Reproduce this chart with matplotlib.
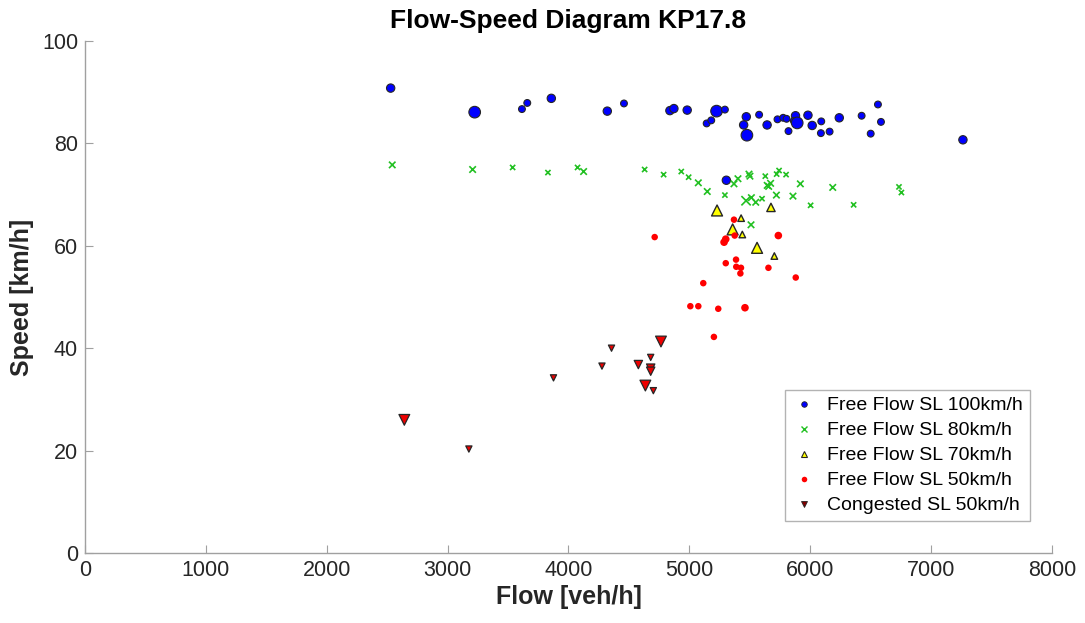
import matplotlib
matplotlib.use("Agg")
import matplotlib.pyplot as plt
from matplotlib.lines import Line2D

plt.rcParams['font.family'] = ['Liberation Sans', 'DejaVu Sans']

# ---- data ----
ff100_flow = [2529, 3224, 3615, 3659, 3858, 4321, 4459, 4839, 4872, 4982, 5143, 5181,
              5225, 5294, 5471, 5449, 5476, 5577, 5643, 5729, 5776, 5804, 5820, 5878,
              5864, 5892, 5981, 6016, 6091, 6088, 6160, 6240, 6425, 6560, 6585, 6500,
              7263, 5306]
ff100_speed = [90.8, 86.1, 86.7, 87.9, 88.8, 86.3, 87.8, 86.4, 86.8, 86.5, 83.9, 84.5,
               86.3, 86.6, 85.2, 83.6, 81.6, 85.6, 83.6, 84.7, 85.0, 84.8, 82.4, 85.4,
               84.4, 84.0, 85.5, 83.5, 84.3, 82.0, 82.3, 85.0, 85.4, 87.6, 84.2, 81.9,
               80.7, 72.8]
ff100_weight = [2, 3, 1, 1, 2, 2, 1, 2, 2, 2, 1, 1,
                3, 1, 2, 2, 3, 1, 2, 1, 1, 1, 1, 2,
                1, 3, 2, 2, 1, 1, 1, 2, 1, 1, 1, 1,
                2, 2]

ff80_flow = [2542, 3207, 3538, 3830, 4075, 4125, 4630, 4787, 4933, 4994, 5074, 5148,
             5294, 5369, 5402, 5493, 5501, 5628, 5644, 5672, 5656, 5722, 5742, 5800,
             5918, 6186, 6734, 6754, 5469, 5513, 5549, 5601, 5720, 5857, 6003, 6359,
             5510]
ff80_speed = [75.8, 74.9, 75.3, 74.3, 75.3, 74.5, 74.9, 73.9, 74.5, 73.4, 72.3, 70.6,
              69.9, 72.1, 73.1, 74.0, 73.6, 73.6, 71.8, 72.2, 71.6, 74.0, 74.7, 73.9,
              72.1, 71.4, 71.5, 70.4, 68.8, 69.4, 68.5, 69.2, 69.9, 69.7, 67.9, 68.0,
              64.1]
ff80_weight = [2, 2, 1, 1, 1, 2, 1, 1, 1, 1, 2, 2,
               1, 2, 2, 2, 2, 1, 2, 2, 2, 1, 1, 1,
               2, 2, 1, 1, 3, 2, 2, 1, 2, 2, 1, 1,
               2]

ff70_flow = [5229, 5675, 5428, 5358, 5438, 5560, 5703]
ff70_speed = [66.9, 67.5, 65.4, 63.2, 62.2, 59.6, 58.0]
ff70_weight = [3, 2, 1, 3, 1, 3, 1]

ff50_flow = [4713, 5369, 5301, 5287, 5375, 5736, 5301, 5386, 5388, 5427, 5422, 5654,
             5880, 5115, 5008, 5074, 5239, 5460, 5203]
ff50_speed = [61.7, 65.1, 61.3, 60.7, 62.0, 62.0, 56.6, 57.3, 55.9, 55.7, 54.6, 55.7,
              53.8, 52.7, 48.2, 48.2, 47.7, 47.9, 42.2]
ff50_weight = [1, 1, 2, 2, 1, 2, 1, 1, 1, 1, 1, 1,
               1, 1, 1, 1, 1, 2, 1]

cg50_flow = [4765, 4356, 4680, 4277, 4578, 4680, 4680, 3876, 4636, 4702, 2642, 3176]
cg50_speed = [41.3, 40.0, 38.2, 36.5, 36.8, 36.1, 35.5, 34.2, 32.7, 31.7, 26.0, 20.3]
cg50_weight = [3, 1, 1, 1, 2, 2, 2, 1, 3, 1, 3, 1]

labels = ["Free Flow SL 100km/h", "Free Flow SL 80km/h", "Free Flow SL 70km/h",
          "Free Flow SL 50km/h", "Congested SL 50km/h"]
xticks = [0, 1000, 2000, 3000, 4000, 5000, 6000, 7000, 8000]
yticks = [0, 20, 40, 60, 80, 100]

# ---- styling ----
def sizes(w, base):
    return [base[k] for k in w]

fig = plt.figure(figsize=(10.85, 6.23), dpi=100)
ax = fig.add_axes([0.0783, 0.1124, 0.8913, 0.8218])

ax.scatter(ff100_flow, ff100_speed, s=sizes(ff100_weight, {1: 24, 2: 36, 3: 70}),
           marker='o', facecolor='#0000ff', edgecolor='#262626', linewidth=0.8, zorder=3)
ax.scatter(ff80_flow, ff80_speed, s=sizes(ff80_weight, {1: 14, 2: 22, 3: 45}),
           marker='x', color='#22c022', linewidth=1.2, zorder=3)
ax.scatter(ff70_flow, ff70_speed, s=sizes(ff70_weight, {1: 22, 2: 36, 3: 62}),
           marker='^', facecolor='#ffff00', edgecolor='#262626', linewidth=1.0, zorder=3)
ax.scatter(ff50_flow, ff50_speed, s=sizes(ff50_weight, {1: 22, 2: 30, 3: 40}),
           marker='o', facecolor='#ff0000', edgecolor='none', zorder=3)
ax.scatter(cg50_flow, cg50_speed, s=sizes(cg50_weight, {1: 20, 2: 36, 3: 60}),
           marker='v', facecolor='#ee0000', edgecolor='#262626', linewidth=0.9, zorder=3)

ax.set_xlim(0, 8000)
ax.set_ylim(0, 100)
ax.set_xticks(xticks)
ax.set_yticks(yticks)
for side in ['top', 'right']:
    ax.spines[side].set_visible(False)
for side in ['left', 'bottom']:
    ax.spines[side].set_color('#a0a0a0')
    ax.spines[side].set_linewidth(1.0)
ax.tick_params(direction='in', length=6, width=0.8, color='#a0a0a0',
               labelsize=15.5, labelcolor='#262626', pad=5)

ax.set_xlabel("Flow [veh/h]", fontsize=18, fontweight='bold', color='#262626', labelpad=3)
ax.set_ylabel("Speed [km/h]", fontsize=18, fontweight='bold', color='#262626', labelpad=6)
ax.set_title("Flow-Speed Diagram KP17.8", fontsize=19, fontweight='bold', color='black', pad=9)

handles = [
    Line2D([], [], linestyle='none', marker='o', markersize=4, markerfacecolor='#0000ff',
           markeredgecolor='#262626', markeredgewidth=0.6),
    Line2D([], [], linestyle='none', marker='x', markersize=4, color='#22c022',
           markeredgewidth=1.0),
    Line2D([], [], linestyle='none', marker='^', markersize=4, markerfacecolor='#ffff00',
           markeredgecolor='#262626', markeredgewidth=0.8),
    Line2D([], [], linestyle='none', marker='o', markersize=4, markerfacecolor='#ff0000',
           markeredgecolor='none'),
    Line2D([], [], linestyle='none', marker='v', markersize=4, markerfacecolor='#800000',
           markeredgecolor='#262626', markeredgewidth=0.6),
]
leg = ax.legend(handles, labels, loc='lower right', bbox_to_anchor=(0.977, 0.062),
                fontsize=14, frameon=True, fancybox=False, handlelength=1.2,
                handletextpad=0.6, borderpad=0.35, labelspacing=0.38, borderaxespad=0)
leg.get_frame().set_edgecolor('#a0a0a0')
leg.get_frame().set_linewidth(1.0)

fig.savefig("out.png", dpi=100)
